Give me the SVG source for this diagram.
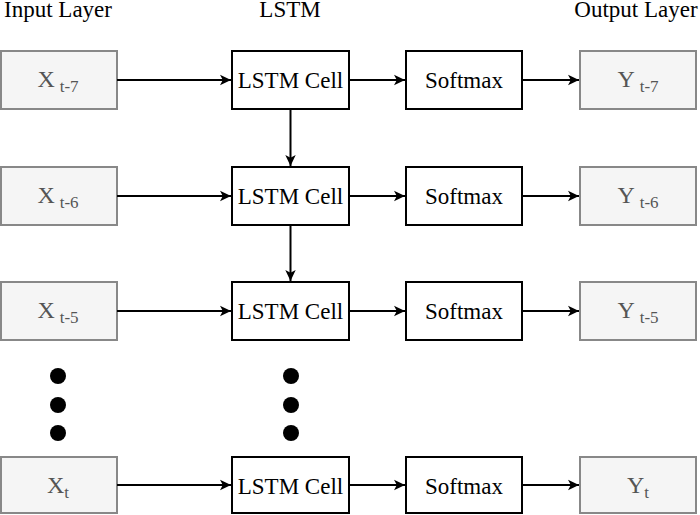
<svg xmlns="http://www.w3.org/2000/svg" width="700" height="515" viewBox="0 0 700 515" font-family="'Liberation Serif','DejaVu Serif',serif">
<defs>
<marker id="ah" markerWidth="12" markerHeight="12" refX="11" refY="6" orient="auto" markerUnits="userSpaceOnUse">
<path d="M0,0.8 L11,6 L0,11.2 L2.8,6 Z" fill="#000"/>
</marker>
<style>
.io{fill:#f5f5f5;stroke:#888;stroke-width:2}
.bx{fill:#fff;stroke:#000;stroke-width:2}
.t{font-family:'Liberation Serif','DejaVu Serif',serif;font-size:23px;fill:#000;text-anchor:middle}
.g{font-family:'Liberation Serif','DejaVu Serif',serif;font-size:24px;fill:#555;text-anchor:middle}
.s{font-size:17px}
.c{stroke:#000;stroke-width:2;fill:none;marker-end:url(#ah)}
</style>
</defs>
<rect width="700" height="515" fill="#fff"/>
<g id="titles">
<text class="t" x="58" y="17">Input Layer</text>
<text class="t" x="290" y="17">LSTM</text>
<text class="t" x="636" y="17">Output Layer</text>
</g>
<g id="x1"><rect class="io" x="1" y="51" width="116" height="58"/><text class="g" x="58" y="87">X<tspan class="s" dx="5" dy="5">t-7</tspan></text></g>
<g id="x2"><rect class="io" x="1" y="167" width="116" height="58"/><text class="g" x="58" y="203">X<tspan class="s" dx="5" dy="5">t-6</tspan></text></g>
<g id="x3"><rect class="io" x="1" y="282" width="116" height="58"/><text class="g" x="58" y="318">X<tspan class="s" dx="5" dy="5">t-5</tspan></text></g>
<g id="x4"><rect class="io" x="1" y="457" width="116" height="56"/><text class="g" x="58" y="493">X<tspan class="s" dy="5">t</tspan></text></g>
<g id="l1"><rect class="bx" x="232" y="51" width="117" height="58"/><text class="t" x="290.5" y="88">LSTM Cell</text></g>
<g id="l2"><rect class="bx" x="232" y="167" width="117" height="58"/><text class="t" x="290.5" y="204">LSTM Cell</text></g>
<g id="l3"><rect class="bx" x="232" y="282" width="117" height="58"/><text class="t" x="290.5" y="319">LSTM Cell</text></g>
<g id="l4"><rect class="bx" x="232" y="457" width="117" height="56"/><text class="t" x="290.5" y="494">LSTM Cell</text></g>
<g id="s1"><rect class="bx" x="406" y="51" width="116" height="58"/><text class="t" x="464" y="88">Softmax</text></g>
<g id="s2"><rect class="bx" x="406" y="167" width="116" height="58"/><text class="t" x="464" y="204">Softmax</text></g>
<g id="s3"><rect class="bx" x="406" y="282" width="116" height="58"/><text class="t" x="464" y="319">Softmax</text></g>
<g id="s4"><rect class="bx" x="406" y="457" width="116" height="56"/><text class="t" x="464" y="494">Softmax</text></g>
<g id="y1"><rect class="io" x="580" y="51" width="116" height="58"/><text class="g" x="638" y="87">Y<tspan class="s" dx="5" dy="5">t-7</tspan></text></g>
<g id="y2"><rect class="io" x="580" y="167" width="116" height="58"/><text class="g" x="638" y="203">Y<tspan class="s" dx="5" dy="5">t-6</tspan></text></g>
<g id="y3"><rect class="io" x="580" y="282" width="116" height="58"/><text class="g" x="638" y="318">Y<tspan class="s" dx="5" dy="5">t-5</tspan></text></g>
<g id="y4"><rect class="io" x="580" y="457" width="116" height="56"/><text class="g" x="638" y="493">Y<tspan class="s" dy="5">t</tspan></text></g>
<g id="dots" fill="#000">
<circle cx="58" cy="376" r="8"/><circle cx="58" cy="405" r="8"/><circle cx="58" cy="433" r="8"/>
<circle cx="291" cy="376" r="8"/><circle cx="291" cy="405" r="8"/><circle cx="291" cy="433" r="8"/>
</g>
<g id="connectors">
<line class="c" x1="117" y1="80" x2="231" y2="80"/>
<line class="c" x1="349" y1="80" x2="405" y2="80"/>
<line class="c" x1="522" y1="80" x2="579" y2="80"/>
<line class="c" x1="117" y1="196" x2="231" y2="196"/>
<line class="c" x1="349" y1="196" x2="405" y2="196"/>
<line class="c" x1="522" y1="196" x2="579" y2="196"/>
<line class="c" x1="117" y1="311" x2="231" y2="311"/>
<line class="c" x1="349" y1="311" x2="405" y2="311"/>
<line class="c" x1="522" y1="311" x2="579" y2="311"/>
<line class="c" x1="117" y1="485" x2="231" y2="485"/>
<line class="c" x1="349" y1="485" x2="405" y2="485"/>
<line class="c" x1="522" y1="485" x2="579" y2="485"/>
<line class="c" x1="290.5" y1="109" x2="290.5" y2="166"/>
<line class="c" x1="290.5" y1="225" x2="290.5" y2="281"/>
</g>
</svg>
